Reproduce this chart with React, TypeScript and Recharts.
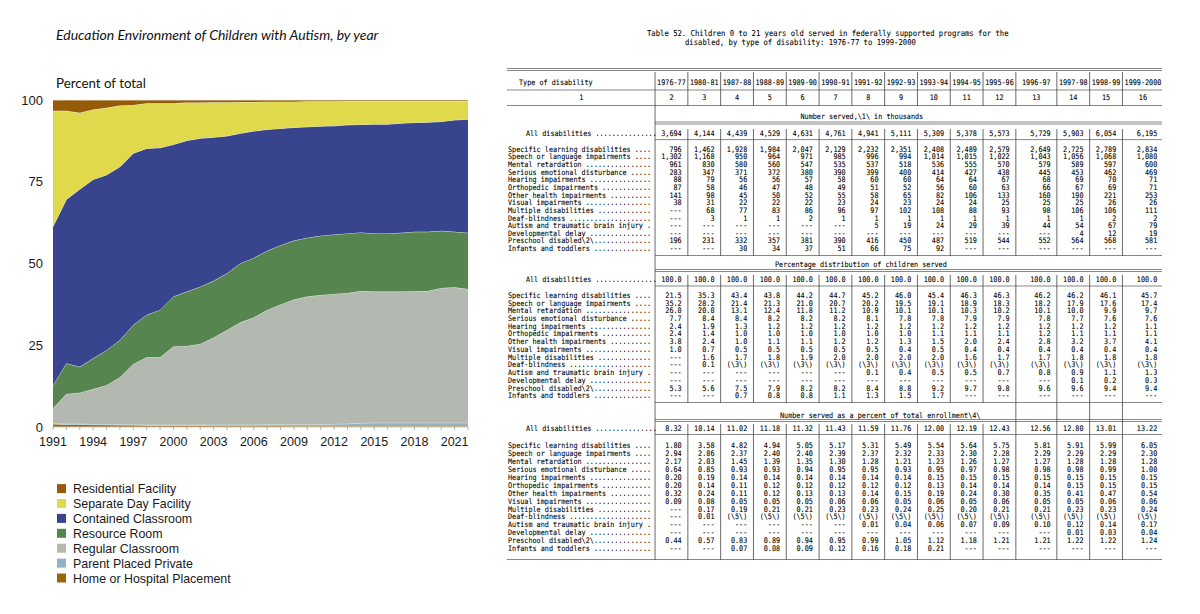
import React from "react";
import { Area, AreaChart, Legend, XAxis, YAxis } from "recharts";

// ---- chart data (percent of total) ----
const years = [
  1991, 1992, 1993, 1994, 1995, 1996, 1997, 1998, 1999, 2000, 2001, 2002, 2003, 2004, 2005, 2006,
  2007, 2008, 2009, 2010, 2011, 2012, 2013, 2014, 2015, 2016, 2017, 2018, 2019, 2020, 2021, 2022,
];
const homeHospital = [
  0.9, 0.8, 0.8, 0.7, 0.7, 0.6, 0.6, 0.5, 0.5, 0.5, 0.5, 0.5, 0.4, 0.4, 0.4, 0.4,
  0.4, 0.4, 0.3, 0.3, 0.3, 0.3, 0.3, 0.3, 0.3, 0.3, 0.3, 0.3, 0.3, 0.3, 0.3, 0.3,
];
const parentPrivate = [
  0.2, 0.2, 0.2, 0.2, 0.2, 0.2, 0.2, 0.2, 0.2, 0.2, 0.2, 0.2, 0.3, 0.3, 0.3, 0.3,
  0.4, 0.4, 0.5, 0.5, 0.5, 0.6, 0.7, 0.9, 1.0, 1.0, 1.0, 1.0, 1.0, 1.0, 1.0, 1.0,
];
const regularClassroom = [
  4.6, 9.1, 9.5, 10.7, 11.9, 14.4, 18.5, 20.6, 20.6, 23.9, 24.1, 24.7, 26.7, 29.0, 31.3, 32.8,
  35.0, 36.7, 38.2, 39.1, 39.6, 39.8, 40.0, 40.4, 40.1, 40.1, 40.1, 40.2, 40.3, 41.2, 41.4, 40.9,
];
const resourceRoom = [
  7.1, 9.4, 7.9, 9.4, 10.7, 11.4, 11.9, 13.0, 14.5, 15.3, 16.6, 17.5, 17.3, 17.3, 18.1, 18.2,
  18.1, 18.1, 18.0, 18.0, 18.1, 18.2, 18.2, 17.9, 17.8, 17.8, 18.0, 18.2, 18.1, 17.5, 17.0, 17.2,
];
const containedClassroom = [
  48.5, 50.1, 54.3, 54.7, 53.6, 53.0, 52.5, 50.9, 49.6, 46.5, 46.2, 45.4, 43.9, 42.0, 39.7, 38.8,
  37.1, 35.7, 34.6, 33.9, 33.5, 33.2, 33.2, 33.0, 33.4, 33.4, 33.5, 33.4, 33.5, 33.4, 34.2, 34.7,
];
const separateDay = [
  35.4, 27.1, 23.4, 21.4, 20.5, 18.7, 14.8, 13.8, 13.6, 12.6, 11.6, 10.9, 10.7, 10.3, 9.6, 8.9,
  8.5, 8.2, 7.9, 7.8, 7.6, 7.5, 7.3, 7.2, 7.1, 7.1, 6.8, 6.6, 6.5, 6.3, 5.8, 5.6,
];
const residential = [
  3.3, 3.3, 3.9, 2.9, 2.4, 1.7, 1.5, 1.0, 1.0, 1.0, 0.8, 0.8, 0.7, 0.7, 0.6, 0.6,
  0.5, 0.5, 0.5, 0.4, 0.4, 0.4, 0.3, 0.3, 0.3, 0.3, 0.3, 0.3, 0.3, 0.3, 0.3, 0.3,
];
const yTicks = [0, 25, 50, 75, 100];
const labeledYears = [1991, 1994, 1997, 2000, 2003, 2006, 2009, 2012, 2015, 2018, 2021];

// bottom of the stack first
const series = [
  { key: "home", name: "Home or Hospital Placement", color: "#9a6408", values: homeHospital },
  { key: "parent", name: "Parent Placed Private", color: "#93b2c6", values: parentPrivate },
  { key: "regular", name: "Regular Classroom", color: "#b3b9b0", values: regularClassroom },
  { key: "resource", name: "Resource Room", color: "#56854f", values: resourceRoom },
  { key: "contained", name: "Contained Classroom", color: "#39448e", values: containedClassroom },
  { key: "separate", name: "Separate Day Facility", color: "#e1d94c", values: separateDay },
  { key: "residential", name: "Residential Facility", color: "#955b08", values: residential },
];

const chartData = years.map((year, i) => {
  const row: Record<string, number> = { year };
  series.forEach((s) => {
    row[s.key] = s.values[i];
  });
  return row;
});

// ---- table 52 data ----
const tableTitle = [
  "Table 52. Children 0 to 21 years old served in federally supported programs for the",
  "disabled, by type of disability: 1976-77 to 1999-2000",
];
const tableYears = [
  "1976-77", "1980-81", "1987-88", "1988-89", "1989-90", "1990-91", "1991-92", "1992-93",
  "1993-94", "1994-95", "1995-96", "1996-97", "1997-98", "1998-99", "1999-2000",
];
const columnNumbers = ["2", "3", "4", "5", "6", "7", "8", "9", "10", "11", "12", "13", "14", "15", "16"];
const disabilityNames = [
  "Specific learning disabilities",
  "Speech or language impairments",
  "Mental retardation",
  "Serious emotional disturbance",
  "Hearing impairments",
  "Orthopedic impairments",
  "Other health impairments",
  "Visual impairments",
  "Multiple disabilities",
  "Deaf-blindness",
  "Autism and traumatic brain injury",
  "Developmental delay",
  "Preschool disabled\\2\\",
  "Infants and toddlers",
];
const captions = [
  "Number served,\\1\\ in thousands",
  "Percentage distribution of children served",
  "Number served as a percent of total enrollment\\4\\",
];

const servedAll = ["3,694", "4,144", "4,439", "4,529", "4,631", "4,761", "4,941", "5,111", "5,309", "5,378", "5,573", "5,729", "5,903", "6,054", "6,195"];
const servedRows = [
  ["796", "1,462", "1,928", "1,984", "2,047", "2,129", "2,232", "2,351", "2,408", "2,489", "2,579", "2,649", "2,725", "2,789", "2,834"],
  ["1,302", "1,168", "950", "964", "971", "985", "996", "994", "1,014", "1,015", "1,022", "1,043", "1,056", "1,068", "1,080"],
  ["961", "830", "580", "560", "547", "535", "537", "518", "536", "555", "570", "579", "589", "597", "600"],
  ["283", "347", "371", "372", "380", "390", "399", "400", "414", "427", "438", "445", "453", "462", "469"],
  ["88", "79", "56", "56", "57", "58", "60", "60", "64", "64", "67", "68", "69", "70", "71"],
  ["87", "58", "46", "47", "48", "49", "51", "52", "56", "60", "63", "66", "67", "69", "71"],
  ["141", "98", "45", "50", "52", "55", "58", "65", "82", "106", "133", "160", "190", "221", "253"],
  ["38", "31", "22", "22", "22", "23", "24", "23", "24", "24", "25", "25", "25", "26", "26"],
  ["---", "68", "77", "83", "86", "96", "97", "102", "108", "88", "93", "98", "106", "106", "111"],
  ["---", "3", "1", "1", "2", "1", "1", "1", "1", "1", "1", "1", "1", "2", "2"],
  ["---", "---", "---", "---", "---", "---", "5", "19", "24", "29", "39", "44", "54", "67", "79"],
  ["---", "---", "---", "---", "---", "---", "---", "---", "---", "---", "---", "---", "4", "12", "19"],
  ["196", "231", "332", "357", "381", "390", "416", "450", "487", "519", "544", "552", "564", "568", "581"],
  ["---", "---", "30", "34", "37", "51", "66", "75", "92", "---", "---", "---", "---", "---", "---"],
];

const shareAll = ["100.0", "100.0", "100.0", "100.0", "100.0", "100.0", "100.0", "100.0", "100.0", "100.0", "100.0", "100.0", "100.0", "100.0", "100.0"];
const shareRows = [
  ["21.5", "35.3", "43.4", "43.8", "44.2", "44.7", "45.2", "46.0", "45.4", "46.3", "46.3", "46.2", "46.2", "46.1", "45.7"],
  ["35.2", "28.2", "21.4", "21.3", "21.0", "20.7", "20.2", "19.5", "19.1", "18.9", "18.3", "18.2", "17.9", "17.6", "17.4"],
  ["26.0", "20.0", "13.1", "12.4", "11.8", "11.2", "10.9", "10.1", "10.1", "10.3", "10.2", "10.1", "10.0", "9.9", "9.7"],
  ["7.7", "8.4", "8.4", "8.2", "8.2", "8.2", "8.1", "7.8", "7.8", "7.9", "7.9", "7.8", "7.7", "7.6", "7.6"],
  ["2.4", "1.9", "1.3", "1.2", "1.2", "1.2", "1.2", "1.2", "1.2", "1.2", "1.2", "1.2", "1.2", "1.2", "1.1"],
  ["2.4", "1.4", "1.0", "1.0", "1.0", "1.0", "1.0", "1.0", "1.1", "1.1", "1.1", "1.2", "1.1", "1.1", "1.1"],
  ["3.8", "2.4", "1.0", "1.1", "1.1", "1.2", "1.2", "1.3", "1.5", "2.0", "2.4", "2.8", "3.2", "3.7", "4.1"],
  ["1.0", "0.7", "0.5", "0.5", "0.5", "0.5", "0.5", "0.4", "0.5", "0.4", "0.4", "0.4", "0.4", "0.4", "0.4"],
  ["---", "1.6", "1.7", "1.8", "1.9", "2.0", "2.0", "2.0", "2.0", "1.6", "1.7", "1.7", "1.8", "1.8", "1.8"],
  ["---", "0.1", "(\\3\\)", "(\\3\\)", "(\\3\\)", "(\\3\\)", "(\\3\\)", "(\\3\\)", "(\\3\\)", "(\\3\\)", "(\\3\\)", "(\\3\\)", "(\\3\\)", "(\\3\\)", "(\\3\\)"],
  ["---", "---", "---", "---", "---", "---", "0.1", "0.4", "0.5", "0.5", "0.7", "0.8", "0.9", "1.1", "1.3"],
  ["---", "---", "---", "---", "---", "---", "---", "---", "---", "---", "---", "---", "0.1", "0.2", "0.3"],
  ["5.3", "5.6", "7.5", "7.9", "8.2", "8.2", "8.4", "8.8", "9.2", "9.7", "9.8", "9.6", "9.6", "9.4", "9.4"],
  ["---", "---", "0.7", "0.8", "0.8", "1.1", "1.3", "1.5", "1.7", "---", "---", "---", "---", "---", "---"],
];

const enrollAll = ["8.32", "10.14", "11.02", "11.18", "11.32", "11.43", "11.59", "11.76", "12.00", "12.19", "12.43", "12.56", "12.80", "13.01", "13.22"];
const enrollRows = [
  ["1.80", "3.58", "4.82", "4.94", "5.05", "5.17", "5.31", "5.49", "5.54", "5.64", "5.75", "5.81", "5.91", "5.99", "6.05"],
  ["2.94", "2.86", "2.37", "2.40", "2.40", "2.39", "2.37", "2.32", "2.33", "2.30", "2.28", "2.29", "2.29", "2.29", "2.30"],
  ["2.17", "2.03", "1.45", "1.39", "1.35", "1.30", "1.28", "1.21", "1.23", "1.26", "1.27", "1.27", "1.28", "1.28", "1.28"],
  ["0.64", "0.85", "0.93", "0.93", "0.94", "0.95", "0.95", "0.93", "0.95", "0.97", "0.98", "0.98", "0.98", "0.99", "1.00"],
  ["0.20", "0.19", "0.14", "0.14", "0.14", "0.14", "0.14", "0.14", "0.15", "0.15", "0.15", "0.15", "0.15", "0.15", "0.15"],
  ["0.20", "0.14", "0.11", "0.12", "0.12", "0.12", "0.12", "0.12", "0.13", "0.14", "0.14", "0.14", "0.15", "0.15", "0.15"],
  ["0.32", "0.24", "0.11", "0.12", "0.13", "0.13", "0.14", "0.15", "0.19", "0.24", "0.30", "0.35", "0.41", "0.47", "0.54"],
  ["0.09", "0.08", "0.05", "0.05", "0.05", "0.06", "0.06", "0.05", "0.06", "0.05", "0.06", "0.05", "0.05", "0.06", "0.06"],
  ["---", "0.17", "0.19", "0.21", "0.21", "0.23", "0.23", "0.24", "0.25", "0.20", "0.21", "0.21", "0.23", "0.23", "0.24"],
  ["---", "0.01", "(\\5\\)", "(\\5\\)", "(\\5\\)", "(\\5\\)", "(\\5\\)", "(\\5\\)", "(\\5\\)", "(\\5\\)", "(\\5\\)", "(\\5\\)", "(\\5\\)", "(\\5\\)", "(\\5\\)"],
  ["---", "---", "---", "---", "---", "---", "0.01", "0.04", "0.06", "0.07", "0.09", "0.10", "0.12", "0.14", "0.17"],
  ["---", "---", "---", "---", "---", "---", "---", "---", "---", "---", "---", "---", "0.01", "0.03", "0.04"],
  ["0.44", "0.57", "0.83", "0.89", "0.94", "0.95", "0.99", "1.05", "1.12", "1.18", "1.21", "1.21", "1.22", "1.22", "1.24"],
  ["---", "---", "0.07", "0.08", "0.09", "0.12", "0.16", "0.18", "0.21", "---", "---", "---", "---", "---", "---"],
];

// ---- table geometry (monospace char grid, glyphs squeezed a little horizontally) ----
const T_X0 = 509.5;
const T_CW = 4.1;
const SX = 0.895;
const colBounds = [35, 43, 51, 59, 67, 75, 83, 91, 99, 107, 115, 123, 133, 141, 149];
const T_END = 159;
const MONO = "'DejaVu Sans Mono', 'Liberation Mono', monospace";
const SANS = "'Liberation Sans', Arial, Helvetica, sans-serif";
const LATO = "Lato, 'Open Sans', sans-serif";

const cx = (i: number) => T_X0 + i * T_CW;
const rightBound = (k: number) => (k < colBounds.length - 1 ? colBounds[k + 1] : T_END);
const colRight = (k: number) => cx(rightBound(k) - 1);
const colMid = (k: number) => cx((colBounds[k] + 1 + rightBound(k)) / 2);
const pipeX = (b: number) => cx(b + 0.5);
const sx = (x: number) => x / SX;

const leader = (name: string) =>
  name.endsWith("\\") ? name.padEnd(35, ".") : (name + " ").padEnd(35, ".");

const sections = [
  { caption: captions[0], captionX: 800.5, captionY: 116.7, allY: 133.3, firstY: 149, pitch: 7.65, all: servedAll, rows: servedRows },
  { caption: captions[1], captionX: 775, captionY: 264.5, allY: 279.8, firstY: 295.2, pitch: 7.72, all: shareAll, rows: shareRows },
  { caption: captions[2], captionX: 780, captionY: 415, allY: 428.3, firstY: 445.7, pitch: 7.89, all: enrollAll, rows: enrollRows },
];

function DisabilityTable() {
  const base = 2.7;
  const fs = 7.6;
  const full = [507, 1162];
  const data = [655, 1162];
  const rules: Array<[number, number[]]> = [
    [68.5, full], [70.5, full], [90, full], [105.5, full],
    [122, data], [124, data], [139.6, data], [255.5, data],
    [269.5, data], [271.5, data], [286, data], [402.5, data],
    [419.5, data], [421.5, data], [434.5, data], [559.5, full],
  ];
  const pipeSpans = [
    [72, 106],
    [129, 256],
    [275, 403],
    [424, 560],
  ];

  return (
    <svg width={1200} height={614} style={{ position: "absolute", left: 0, top: 0 }}>
      {rules.map(([y, [x1, x2]], i) => (
        <line key={`r${i}`} x1={x1} x2={x2} y1={y} y2={y} stroke="#555" strokeWidth={0.7} />
      ))}
      <line x1={pipeX(colBounds[0])} x2={pipeX(colBounds[0])} y1={72} y2={560} stroke="#444" strokeWidth={0.8} />
      {colBounds.slice(1).map((b) =>
        pipeSpans.map(([y1, y2], j) => (
          <line key={`p${b}-${j}`} x1={pipeX(b)} x2={pipeX(b)} y1={y1} y2={y2} stroke="#444" strokeWidth={0.8} />
        ))
      )}
      {colBounds.slice(11).map((b) => (
        <line key={`q${b}`} x1={pipeX(b)} x2={pipeX(b)} y1={403} y2={424} stroke="#444" strokeWidth={0.8} />
      ))}

      <g transform={`scale(${SX},1)`} fontFamily={MONO} fill="#000" stroke="#000" strokeWidth={0.08}>
        <text x={sx(647)} y={36} fontSize={8.1}>{tableTitle[0]}</text>
        <text x={sx(685)} y={45.4} fontSize={8.1}>{tableTitle[1]}</text>

        <g fontSize={fs}>
          <text x={sx(519)} y={82.7 + base}>Type of disability</text>
          {tableYears.map((yr, k) => (
            <text key={yr} x={sx(colMid(k))} y={82.7 + base} textAnchor="middle">{yr}</text>
          ))}
          <text x={sx(cx(17.5))} y={97.3 + base} textAnchor="middle">1</text>
          {columnNumbers.map((n, k) => (
            <text key={n} x={sx(colMid(k))} y={97.3 + base} textAnchor="middle">{n}</text>
          ))}

          {sections.map((sec, si) => (
            <g key={si}>
              <text x={sx(sec.captionX)} y={sec.captionY + base}>{sec.caption}</text>
              <text x={sx(cx(4))} y={sec.allY + base}>{"All disabilities ..............."}</text>
              {sec.all.map((v, k) => (
                <text key={k} x={sx(colRight(k))} y={sec.allY + base} textAnchor="end">{v}</text>
              ))}
              {sec.rows.map((vals, r) => {
                const y = sec.firstY + r * sec.pitch + base;
                return (
                  <g key={r}>
                    <text x={sx(508)} y={y}>{leader(disabilityNames[r])}</text>
                    {vals.map((v, k) => (
                      <text key={k} x={sx(colRight(k))} y={y} textAnchor="end">{v}</text>
                    ))}
                  </g>
                );
              })}
            </g>
          ))}
        </g>
      </g>
    </svg>
  );
}

function YearTick(props: any) {
  const { x, y, payload } = props;
  const yr = payload.value;
  return (
    <g>
      <line x1={x} x2={x} y1={y} y2={y + 3} stroke="#a0a0a0" strokeWidth={0.8} />
      {labeledYears.includes(yr) ? (
        <text x={x} y={y + 18.5} textAnchor="middle" fontSize={12.5} fill="#1a1a1a" fontFamily={SANS}>
          {yr}
        </text>
      ) : null}
    </g>
  );
}

function LegendBox() {
  const items = [...series].reverse();
  return (
    <svg width={240} height={110}>
      {items.map((s, i) => {
        const cy = 10.6 + i * 14.9;
        return (
          <g key={s.key}>
            <rect x={7} y={cy - 4.5} width={9} height={9} fill={s.color} />
            <text x={23} y={cy + 4.5} fontSize={12.4} fill="#1a1a1a" fontFamily={SANS}>
              {s.name}
            </text>
          </g>
        );
      })}
    </svg>
  );
}

export default function App() {
  return (
    <div style={{ position: "absolute", left: 0, top: 0, width: 1200, height: 614, background: "#fff", overflow: "hidden" }}>
      <svg width={500} height={100} style={{ position: "absolute", left: 0, top: 0 }}>
        <text x={56} y={39.8} fontSize={14} fontStyle="italic" fontFamily={LATO} fill="#111">
          Education Environment of Children with Autism, by year
        </text>
        <text x={56} y={88} fontSize={13.3} fontFamily={LATO} fill="#111">
          Percent of total
        </text>
      </svg>

      <div style={{ position: "absolute", left: 0, top: 0 }}>
        <AreaChart width={500} height={614} data={chartData} margin={{ top: 100, right: 32, bottom: 167, left: 8 }}>
          <XAxis
            dataKey="year"
            type="number"
            domain={[1991, 2022]}
            ticks={years}
            interval={0}
            tick={<YearTick />}
            tickSize={0}
            tickMargin={0}
            tickLine={false}
            axisLine={{ stroke: "#c9c9c9" }}
            height={20}
          />
          <YAxis
            domain={[0, 100]}
            ticks={yTicks}
            axisLine={false}
            tickLine={false}
            width={45}
            tickSize={6}
            tickMargin={4}
            tick={{ fontSize: 13, fill: "#1a1a1a", fontFamily: SANS }}
          />
          {series.map((s) => (
            <Area
              key={s.key}
              type="linear"
              dataKey={s.key}
              name={s.name}
              stackId="1"
              fill={s.color}
              fillOpacity={1}
              stroke="#eef2e6"
              strokeWidth={0.8}
              dot={false}
              activeDot={false}
              isAnimationActive={false}
            />
          ))}
          <Legend
            layout="vertical"
            verticalAlign="middle"
            align="center"
            wrapperStyle={{ left: 50, top: 478, width: 240, height: 110 }}
            content={() => <LegendBox />}
          />
        </AreaChart>
      </div>

      <DisabilityTable />
    </div>
  );
}
